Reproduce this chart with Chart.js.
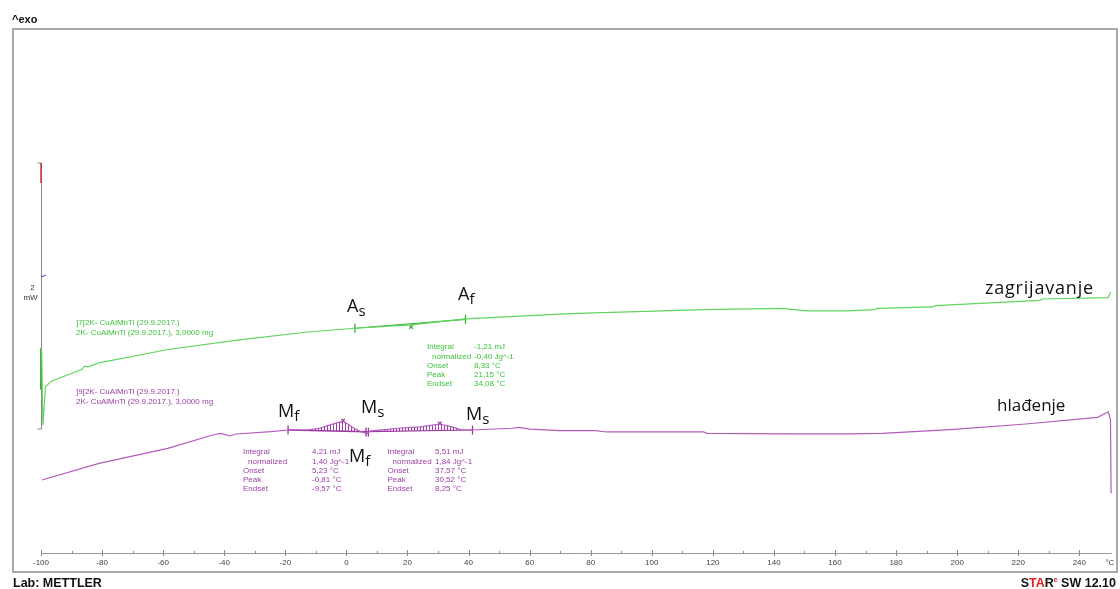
<!DOCTYPE html>
<html>
<head>
<meta charset="utf-8">
<script src="https://cdn.jsdelivr.net/npm/chart.js@4.4.0/dist/chart.umd.min.js"></script>
<style>
html, body { margin: 0; padding: 0; background: #fff; }
</style>
</head>
<body>
<canvas id="chart" width="1120" height="589"></canvas>
<script>
// x axis (temperature, °C)
const xTicks = [-100, -80, -60, -40, -20, 0, 20, 40, 60, 80, 100, 120, 140, 160, 180, 200, 220, 240]
const xMinorTicks = [-90, -70, -50, -30, -10, 10, 30, 50, 70, 90, 110, 130, 150, 170, 190, 210, 230]
const xUnit = '°C'
const xUnitAt = 250

// heating run (zagrijavanje), mW
const heatX = [-99.8, -99.4, -98.5, -96.8, -86.7, -85.6, -84.6, -81.0, -58.4, -35.8, -13.4, 2.8, 21.2, 39.0, 73.2, 116.9, 142.6, 150.8, 163.8, 173.2, 173.7, 192.0, 192.9, 227.1, 227.8, 249.4, 250.3]
const heatY = [1.54, 0.96, 1.25, 1.29, 1.38, 1.405, 1.40, 1.43, 1.53, 1.60, 1.66, 1.69, 1.715, 1.76, 1.80, 1.83, 1.84, 1.82, 1.82, 1.83, 1.84, 1.85, 1.86, 1.90, 1.91, 1.92, 1.96]

// cooling run (hlađenje), mW
const coolX = [-99.7, -81.0, -58.5, -43.8, -41.1, -38.1, -36.0, -24.7, -19.1, -12.6, -8.6, -3.7, -1.1, 1.8, 4.5, 6.9, 7.7, 17.6, 24.1, 30.6, 34.6, 37.9, 41.3, 54.2, 56.5, 60.1, 69.9, 81.7, 85.2, 116.9, 118.1, 145.1, 163.8, 175.6, 198.9, 222.5, 246.0, 249.5, 250.2, 250.4]
const coolY = [0.549, 0.674, 0.787, 0.887, 0.900, 0.880, 0.895, 0.912, 0.925, 0.925, 0.940, 0.975, 0.992, 0.950, 0.914, 0.898, 0.917, 0.940, 0.948, 0.970, 0.948, 0.925, 0.925, 0.938, 0.945, 0.932, 0.920, 0.920, 0.910, 0.910, 0.900, 0.895, 0.895, 0.900, 0.930, 0.970, 1.020, 1.062, 1.000, 0.449]

// evaluation limits and baselines
const heatLimitX = [2.8, 39.0]
const heatLimitY = [1.69, 1.757]
const coolLimitX = [-19.1, 6.4, 7.2, 41.3]
const coolLimitY = [0.925, 0.910, 0.908, 0.925]
const peak1Range = [-19.1, 6.9]
const base1Y = [0.925, 0.912]
const peak2Range = [6.9, 41.3]
const base2Y = [0.912, 0.925]
const heatPeakX = [21.2]
const heatPeakY = [1.70]
const coolPeakX = [-1.1, 30.6]
const coolPeakY = [0.995, 0.973]

// y scale bar and axis markers
const scaleBarX = -100
const scaleBarY = [0.932, 2.932]
const scaleBarLabel = ['2', 'mW']
const redMarkY = [2.932, 2.782]
const blueMarkX = [-100, -98.4]
const blueMarkY = [2.075, 2.09]
const heatStartY = [1.54, 1.23]

const pts = (xs, ys) => xs.map((x, i) => ({ x: x, y: ys[i] }))
const coolPts = pts(coolX, coolY)
const peak1 = coolPts.filter(p => p.x >= peak1Range[0] && p.x <= peak1Range[1])
const peak2 = coolPts.filter(p => p.x >= peak2Range[0] && p.x <= peak2Range[1])

const GREEN = '#5fd65f'
const GREEN_TXT = '#3cc43c'
const PURPLE = '#b45bbd'
const PURPLE_TXT = '#9d3fa5'

const hatch = document.createElement('canvas')
hatch.width = 3
hatch.height = 3
const hctx = hatch.getContext('2d')
hctx.fillStyle = '#a03aa8'
hctx.fillRect(0, 0, 1, 3)
const hatchPattern = hctx.createPattern(hatch, 'repeat')

const line = (data, color, width, extra) => Object.assign({
    data: data, borderColor: color, borderWidth: width, pointRadius: 0,
    fill: false, tension: 0, clip: false
}, extra || {})

const marks = (data, color, style, r, rot) => ({
    data: data, showLine: false, borderColor: color, backgroundColor: color,
    pointStyle: style, pointRadius: r, pointRotation: rot, pointBorderWidth: 1.3, clip: false
})

function text(ctx, s, x, y, font, color, align) {
    ctx.font = font
    ctx.fillStyle = color
    ctx.textAlign = align || 'left'
    ctx.fillText(s, x, y)
}

function subLabel(ctx, main, sub, x, y) {
    ctx.textBaseline = 'alphabetic'
    text(ctx, main, x, y, '18px "Open Sans"', '#111')
    const w = ctx.measureText(main).width
    text(ctx, sub, x + w, y + 4, '15px "Open Sans"', '#111')
}

function block(ctx, x, vx, y, values, color) {
    const names = ['Integral', '  normalized', 'Onset', 'Peak', 'Endset']
    const step = 9.3
    ctx.textBaseline = 'middle'
    names.forEach((n, i) => {
        text(ctx, n.trim(), n.startsWith(' ') ? x + 5 : x, y + i * step, '8px "Liberation Sans"', color)
        text(ctx, values[i], vx, y + i * step, '8px "Liberation Sans"', color)
    })
}

const decor = {
    id: 'decor',
    beforeDraw(chart) {
        const ctx = chart.ctx
        ctx.save()
        ctx.fillStyle = '#fff'
        ctx.fillRect(0, 0, chart.width, chart.height)
        ctx.restore()
    },
    beforeDatasetsDraw(chart) {
        const ctx = chart.ctx
        const xs = chart.scales.x, ys = chart.scales.y
        const bx = Math.round(xs.getPixelForValue(scaleBarX)) + 0.5
        const t = ys.getPixelForValue(scaleBarY[1]), b = ys.getPixelForValue(scaleBarY[0])
        ctx.save()
        ctx.strokeStyle = '#8a8a8a'
        ctx.lineWidth = 1
        ctx.beginPath()
        ctx.moveTo(bx - 4, t); ctx.lineTo(bx, t); ctx.lineTo(bx, b); ctx.lineTo(bx - 4, b)
        ctx.stroke()
        ctx.textBaseline = 'middle'
        const mid = (t + b) / 2
        text(ctx, scaleBarLabel[0], bx - 9, mid - 8, '8px "Liberation Sans"', '#333', 'center')
        text(ctx, scaleBarLabel[1], bx - 11, mid + 2, '8px "Liberation Sans"', '#333', 'center')
        // minor / major ticks on the temperature axis
        const yb = chart.chartArea.bottom
        ctx.strokeStyle = '#888'
        xTicks.forEach(v => {
            const px = Math.round(xs.getPixelForValue(v)) + 0.5
            ctx.beginPath(); ctx.moveTo(px, yb - 3); ctx.lineTo(px, yb + 3); ctx.stroke()
        })
        xMinorTicks.forEach(v => {
            const px = Math.round(xs.getPixelForValue(v)) + 0.5
            ctx.beginPath(); ctx.moveTo(px, yb - 2); ctx.lineTo(px, yb); ctx.stroke()
        })
        ctx.restore()
    },
    afterDraw(chart) {
        const ctx = chart.ctx
        ctx.save()
        // frame
        ctx.strokeStyle = '#a8a8a8'
        ctx.lineWidth = 2
        ctx.strokeRect(13, 29, 1104, 543)
        ctx.textBaseline = 'alphabetic'
        text(ctx, '^exo', 12, 23, 'bold 11px "Liberation Sans"', '#111')
        text(ctx, 'Lab: METTLER', 13, 587, 'bold 12.5px "Liberation Sans"', '#111')
        // STARe SW 12.10
        const parts = [['S', '#111', 12.5, 0], ['TA', '#e52020', 12.5, 0], ['R', '#111', 12.5, 0], ['e', '#e52020', 7, -5], [' SW 12.10', '#111', 12.5, 0]]
        let total = 0
        parts.forEach(p => { ctx.font = 'bold ' + p[2] + 'px "Liberation Sans"'; total += ctx.measureText(p[0]).width })
        let sx = 1116 - total
        parts.forEach(p => {
            text(ctx, p[0], sx, 587 + p[3], 'bold ' + p[2] + 'px "Liberation Sans"', p[1])
            sx += ctx.measureText(p[0]).width
        })
        // sample labels
        ctx.textBaseline = 'middle'
        text(ctx, ']7[2K- CuAlMnTi (29.9.2017.)', 76, 323, '8px "Liberation Sans"', GREEN_TXT)
        text(ctx, '2K- CuAlMnTi (29.9.2017.), 3,0000 mg', 76, 333, '8px "Liberation Sans"', GREEN_TXT)
        text(ctx, ']9[2K- CuAlMnTi (29.9.2017.)', 76, 392, '8px "Liberation Sans"', PURPLE_TXT)
        text(ctx, '2K- CuAlMnTi (29.9.2017.), 3,0000 mg', 76, 402, '8px "Liberation Sans"', PURPLE_TXT)
        // evaluation results
        block(ctx, 427, 474, 347, ['-1,21 mJ', '-0,40 Jg^-1', '8,33 °C', '21,15 °C', '34,08 °C'], GREEN_TXT)
        block(ctx, 243, 312, 452, ['4,21 mJ', '1,40 Jg^-1', '5,23 °C', '-0,81 °C', '-9,57 °C'], PURPLE_TXT)
        block(ctx, 387.5, 435, 452, ['5,51 mJ', '1,84 Jg^-1', '37,57 °C', '30,52 °C', '8,25 °C'], PURPLE_TXT)
        // transformation temperatures
        subLabel(ctx, 'A', 's', 347, 312)
        subLabel(ctx, 'A', 'f', 458, 300)
        subLabel(ctx, 'M', 'f', 278, 417)
        subLabel(ctx, 'M', 's', 361, 413)
        subLabel(ctx, 'M', 'f', 349, 462)
        subLabel(ctx, 'M', 's', 466, 420)
        // curve names
        ctx.textBaseline = 'alphabetic'
        ctx.letterSpacing = '0.8px'
        text(ctx, 'zagrijavanje', 985, 294, '18px "Open Sans"', '#111')
        ctx.letterSpacing = '0px'
        text(ctx, 'hlađenje', 997, 411, '17px "Open Sans"', '#111')
        ctx.restore()
    }
}

const chart = new Chart(document.getElementById('chart').getContext('2d'), {
    type: 'line',
    data: {
        datasets: [
            line(pts(heatX, heatY), GREEN, 1.2),
            line(coolPts, PURPLE, 1.2),
            line(peak1, 'rgba(0,0,0,0)', 0, { fill: 3, backgroundColor: hatchPattern }),
            line(pts(peak1Range, base1Y), '#9b35a3', 1.6),
            line(peak2, 'rgba(0,0,0,0)', 0, { fill: 5, backgroundColor: hatchPattern }),
            line(pts(peak2Range, base2Y), '#9b35a3', 1.2),
            line(pts(heatLimitX, heatLimitY), '#36b436', 1.2),
            marks(pts(heatLimitX, heatLimitY), '#2fae2f', 'line', 4.5, 90),
            marks(pts(coolLimitX, coolLimitY), '#9b35a3', 'line', 4.5, 90),
            marks(pts(heatPeakX, heatPeakY), '#2fae2f', 'crossRot', 2.5, 0),
            marks(pts(coolPeakX, coolPeakY), '#9b35a3', 'crossRot', 2.5, 0),
            line(pts([scaleBarX, scaleBarX], redMarkY), '#d02828', 1.4),
            line(pts(blueMarkX, blueMarkY), '#3a3ae0', 1),
            line(pts([scaleBarX, scaleBarX], heatStartY), '#1f9a1f', 1.6)
        ]
    },
    options: {
        responsive: false,
        devicePixelRatio: 1,
        animation: false,
        layout: { padding: { left: 41, right: 8.6, top: 29, bottom: 0 } },
        plugins: { legend: { display: false }, tooltip: { enabled: false } },
        scales: {
            x: {
                type: 'linear',
                min: -100,
                max: 250.5,
                grid: { display: false, drawTicks: false },
                border: { display: true, color: '#999', width: 1 },
                afterFit: s => { s.height = 36 },
                afterBuildTicks: s => { s.ticks = xTicks.concat([xUnitAt]).map(v => ({ value: v })) },
                ticks: {
                    autoSkip: false,
                    maxRotation: 0,
                    padding: 5,
                    color: '#444',
                    font: { family: 'Liberation Sans', size: 8 },
                    callback: v => v === xUnitAt ? xUnit : String(v)
                }
            },
            y: { type: 'linear', display: false, min: 0, max: 3.94 }
        }
    },
    plugins: [decor]
})
</script>
</body>
</html>
